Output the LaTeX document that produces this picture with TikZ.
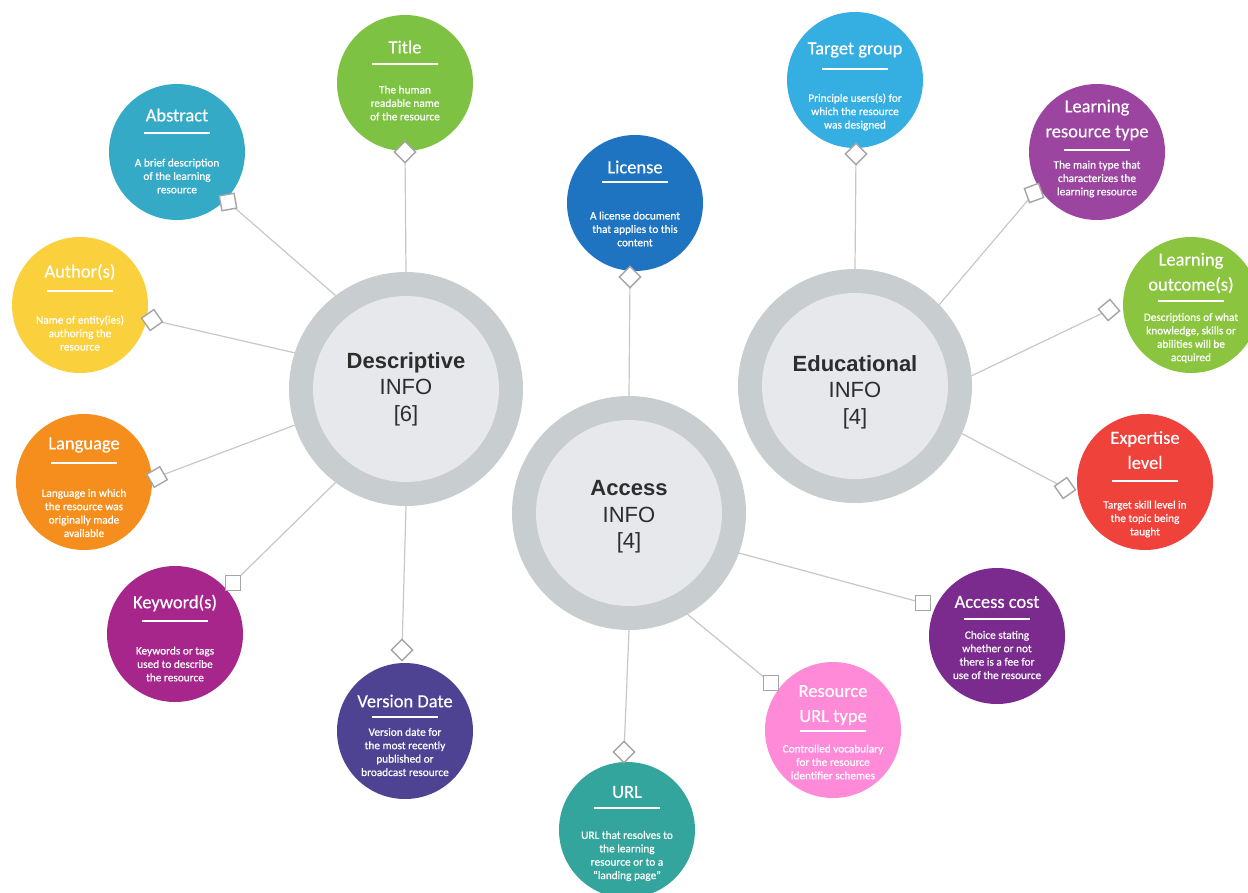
\documentclass[tikz,border=0pt]{standalone}
\usepackage{fontspec}
\setmainfont{Carlito}
\newfontfamily\hubfont{Liberation Sans}
\newfontfamily\satfont[FakeBold=0.6]{Carlito}
\newfontfamily\sattfont[FakeBold=0.3]{Carlito}
\usetikzlibrary{backgrounds}
\pgfdeclarelayer{bgwhite}
\pgfsetlayers{bgwhite,background,main}
\definecolor{cTitle}{RGB}{125,194,66}
\definecolor{cAbstract}{RGB}{52,170,198}
\definecolor{cAuthor}{RGB}{250,208,60}
\definecolor{cLanguage}{RGB}{246,142,30}
\definecolor{cKeyword}{RGB}{166,38,139}
\definecolor{cVersion}{RGB}{78,66,147}
\definecolor{cLicense}{RGB}{31,116,193}
\definecolor{cURL}{RGB}{51,165,156}
\definecolor{cResURL}{RGB}{255,138,216}
\definecolor{cCost}{RGB}{123,42,142}
\definecolor{cTarget}{RGB}{53,174,226}
\definecolor{cLRT}{RGB}{155,69,160}
\definecolor{cLO}{RGB}{139,197,64}
\definecolor{cExpert}{RGB}{239,66,59}
\definecolor{hubO}{RGB}{200,205,208}
\definecolor{hubI}{RGB}{230,232,235}
\definecolor{hubT}{RGB}{45,45,45}
\definecolor{lnC}{RGB}{200,200,200}
\definecolor{mkC}{RGB}{165,165,165}
\newcommand{\satnode}[9]{%
  \node[sat, fill=#4] (#1) at (#2,#3) {};
  \node[sattitle] (#1-t) at (#2,#6) {#5};
  \draw[white, line width=1.3pt] (#2-33,#7) -- (#2+33,#7);
  \node[satdesc] (#1-d) at (#2,#9) {#8};
}
\begin{document}
\begin{tikzpicture}[x=1pt,y=-1pt,
  sat/.style={circle, minimum size=136pt, inner sep=0pt, outer sep=0pt},
  sattitle/.style={text=white, align=center, font=\sattfont\fontsize{18.5}{25}\selectfont, inner sep=0pt},
  satdesc/.style={text=white, align=center, font=\satfont\fontsize{11.3}{13.4}\selectfont, inner sep=0pt},
  hubouter/.style={circle, fill=hubO, minimum size=234pt, inner sep=0pt, outer sep=0pt},
  hubinner/.style={circle, fill=hubI, minimum size=186pt, inner sep=0pt},
  hubtext/.style={align=center, text=hubT, font=\hubfont\fontsize{22}{26.5}\selectfont, inner sep=0pt},
  mkbox/.style={rectangle, draw=mkC, fill=white, line width=1.4pt, minimum size=15pt, inner sep=0pt, outer sep=0pt},
  conn/.style={draw=lnC, line width=1.2pt}]
\begin{pgfonlayer}{bgwhite}
\fill[white] (0,0) rectangle (1248,892);
\end{pgfonlayer}
\useasboundingbox (0,0) rectangle (1248,892);
\clip (0,0) rectangle (1248,892);

% hubs
\node[hubouter] (desc) at (406,389) {};
\node[hubinner] (desc-in) at (406,389) {};
\node[hubtext] (desc-t) at (406,389) {\textbf{Descriptive}\\INFO\\{[6]}};
\node[hubouter] (acc) at (629,513) {};
\node[hubinner] (acc-in) at (629,513) {};
\node[hubtext] (acc-t) at (629,517) {\textbf{Access}\\INFO\\{[4]}};
\node[hubouter] (edu) at (855,386) {};
\node[hubinner] (edu-in) at (855,386) {};
\node[hubtext] (edu-t) at (855,392) {\textbf{Educational}\\INFO\\{[4]}};

% satellites
\satnode{title}{405}{83}{cTitle}{Title}{47}{64}{The human\\readable name\\of the resource}{103}
\satnode{abstract}{177}{152}{cAbstract}{Abstract}{115}{133}{A brief description\\of the learning\\resource}{176}
\satnode{author}{80}{305}{cAuthor}{Author(s)}{272}{291}{Name of entity(ies)\\authoring the\\resource}{333}
\satnode{lang}{84}{482}{cLanguage}{Language}{445}{463}{Language in which\\the resource was\\originally made\\available}{513}
\satnode{kw}{175}{634}{cKeyword}{Keyword(s)}{603}{621}{Keywords or tags\\used to describe\\the resource}{664}
\satnode{ver}{405}{731}{cVersion}{Version Date}{701}{717}{Version date for\\the most recently\\published or\\broadcast resource}{752}
\satnode{lic}{635}{203}{cLicense}{License}{167}{182}{A license document\\that applies to this\\content}{229}
\satnode{url}{627}{830}{cURL}{URL}{792}{808}{URL that resolves to\\the learning\\resource or to a\\“landing page”}{856}
\satnode{rurl}{833}{730}{cResURL}{Resource\\URL type}{705}{731}{Controlled vocabulary\\for the resource\\identifier schemes}{762}
\satnode{cost}{997}{636}{cCost}{Access cost}{602}{619}{Choice stating\\whether or not\\there is a fee for\\use of the resource}{655}
\satnode{target}{855}{80}{cTarget}{Target group}{50}{69}{Principle users(s) for\\which the resource\\was designed}{112}
\satnode{lrt}{1097}{152}{cLRT}{Learning\\resource type}{120}{150}{The main type that\\characterizes the\\learning resource}{179}
\satnode{lo}{1191}{305}{cLO}{Learning\\outcome(s)}{273}{301}{Descriptions of what\\knowledge, skills or\\abilities will be\\acquired}{338}
\satnode{exp}{1145}{482}{cExpert}{Expertise\\level}{450}{481}{Target skill level in\\the topic being\\taught}{519}

% markers
\node[mkbox, rotate=45] (m-title) at (405,152) {};
\node[mkbox, rotate=10] (m-abstract) at (228,202) {};
\node[mkbox, rotate=35] (m-author) at (152,320) {};
\node[mkbox, rotate=30] (m-lang) at (157,477) {};
\node[mkbox, rotate=0] (m-kw) at (233,583) {};
\node[mkbox, rotate=45] (m-ver) at (402,650) {};
\node[mkbox, rotate=45] (m-lic) at (630,277) {};
\node[mkbox, rotate=45] (m-url) at (624,752) {};
\node[mkbox, rotate=0] (m-rurl) at (771,683) {};
\node[mkbox, rotate=0] (m-cost) at (923,603) {};
\node[mkbox, rotate=45] (m-target) at (856,154) {};
\node[mkbox, rotate=20] (m-lrt) at (1034,193) {};
\node[mkbox, rotate=40] (m-lo) at (1109,310) {};
\node[mkbox, rotate=35] (m-exp) at (1065,488) {};

% connectors
\begin{pgfonlayer}{background}
\draw[conn] (m-title) -- (desc.90);
\draw[conn] (m-abstract) -- (desc.127);
\draw[conn] (m-author) -- (desc.162);
\draw[conn] (m-lang) -- (desc.198);
\draw[conn] (m-kw) -- (desc.233);
\draw[conn] (m-ver) -- (desc.270);
\draw[conn] (m-lic) -- (acc.90);
\draw[conn] (m-url) -- (acc.270);
\draw[conn] (m-rurl) -- (acc.300);
\draw[conn] (m-cost) -- (acc.340);
\draw[conn] (m-target) -- (edu.90);
\draw[conn] (m-lrt) -- (edu.44);
\draw[conn] (m-lo) -- (edu.5);
\draw[conn] (m-exp) -- (edu.336);
\end{pgfonlayer}
\end{tikzpicture}
\end{document}
